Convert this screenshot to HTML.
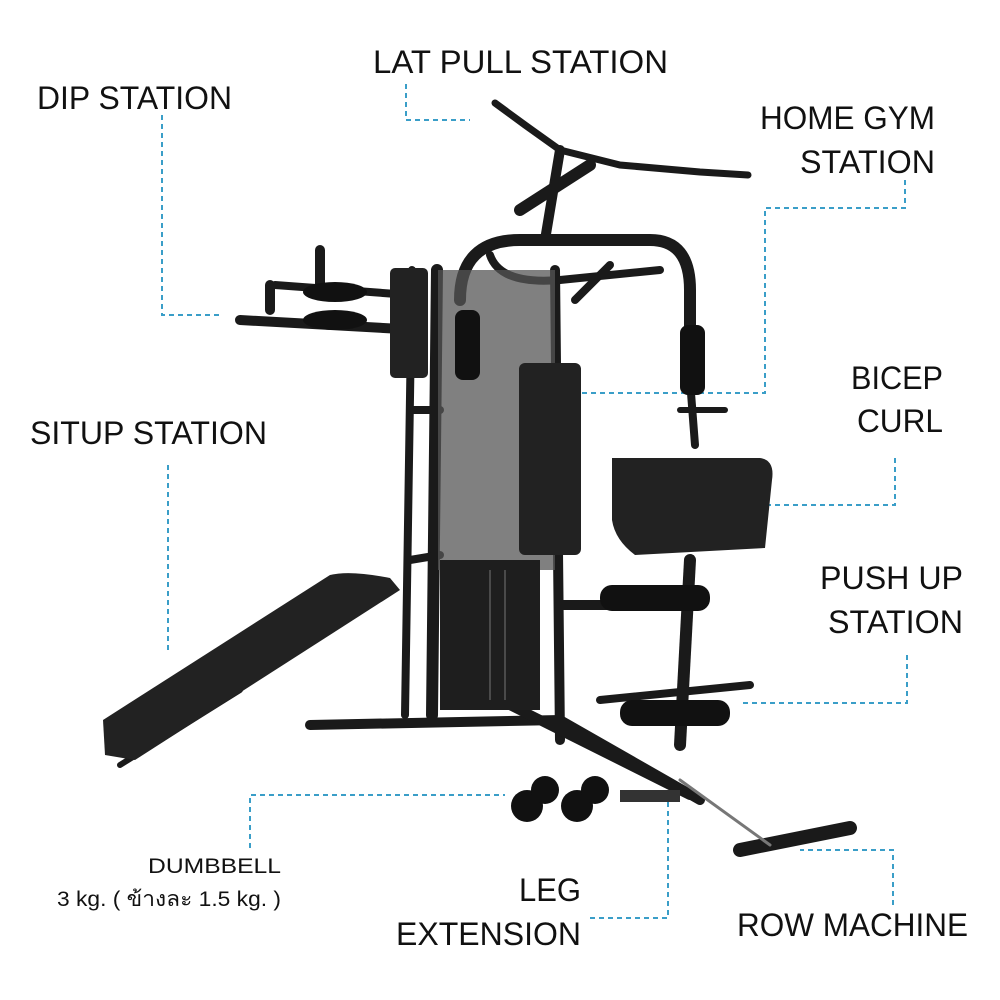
<!DOCTYPE html>
<html><head><meta charset="utf-8"><style>
html,body{margin:0;padding:0;background:#fff;}
svg{display:block}
text{font-family:"Liberation Sans","Noto Sans CJK SC",sans-serif;fill:#111;}
</style></head><body>
<svg width="1000" height="1000" viewBox="0 0 1000 1000" xmlns="http://www.w3.org/2000/svg">
<g fill="none" stroke="#3a9ec8" stroke-width="2" stroke-dasharray="5,4">
<polyline points="406,84 406,120 470,120"/>
<polyline points="162,115 162,315 222,315"/>
<polyline points="905,180 905,208 765,208 765,393 580,393"/>
<polyline points="895,458 895,505 760,505"/>
<polyline points="168,465 168,650"/>
<polyline points="907,655 907,703 740,703"/>
<polyline points="250,848 250,795 505,795"/>
<polyline points="590,918 668,918 668,800"/>
<polyline points="893,905 893,850 800,850"/>
</g>
<g stroke="#1a1a1a" stroke-linecap="round" fill="none">
<path d="M495,103 L525,125 L560,150 L620,165 L700,172 L748,175" stroke-width="7"/>
<path d="M560,150 L545,240" stroke-width="10"/>
<path d="M520,210 L590,165" stroke-width="12"/>
<path d="M437,270 L432,715" stroke-width="12"/>
<path d="M555,270 L560,740" stroke-width="10"/>
<path d="M412,270 L405,715" stroke-width="8"/>
<path d="M460,300 Q460,240 520,240 L650,240 Q690,240 690,290 L690,330" stroke-width="12"/>
<path d="M490,255 Q500,285 560,280 L660,270" stroke-width="8"/>
<path d="M575,300 L610,265" stroke-width="8"/>
<path d="M690,380 L695,445" stroke-width="8"/>
<path d="M680,410 L725,410" stroke-width="6"/>
<path d="M310,725 L560,720 L700,800" stroke-width="10"/>
<path d="M500,700 L690,795" stroke-width="10"/>
<path d="M690,560 L680,745" stroke-width="12"/>
<path d="M600,700 L750,685" stroke-width="8"/>
<path d="M560,605 L690,605" stroke-width="10"/>
<path d="M240,320 L420,330" stroke-width="10"/>
<path d="M275,285 L410,295" stroke-width="8"/>
<path d="M270,285 L270,310" stroke-width="10"/>
<path d="M320,250 L320,285" stroke-width="10"/>
<path d="M740,850 L850,828" stroke-width="14"/>
<path d="M680,780 L770,845" stroke-width="3" stroke="#777"/>
<path d="M440,555 L410,560" stroke-width="8"/>
<path d="M410,410 L440,410" stroke-width="8"/>
<path d="M120,765 L240,690" stroke-width="6"/>
</g>
<rect x="438" y="270" width="117" height="300" fill="#555" opacity="0.75"/>
<rect x="440" y="560" width="100" height="150" fill="#1e1e1e"/>
<g stroke="#777" stroke-width="1">
<line x1="490" y1="570" x2="490" y2="700"/><line x1="505" y1="570" x2="505" y2="700"/>
</g>
<rect x="455" y="310" width="25" height="70" rx="8" fill="#111"/>
<rect x="680" y="325" width="25" height="70" rx="8" fill="#111"/>
<rect x="519" y="363" width="62" height="192" rx="6" fill="#222"/>
<path d="M612,458 L760,458 Q775,460 772,480 L765,548 L635,555 Q615,540 612,520 Z" fill="#222"/>
<rect x="390" y="268" width="38" height="110" rx="5" fill="#222"/>
<ellipse cx="335" cy="292" rx="32" ry="10" fill="#111"/>
<ellipse cx="335" cy="320" rx="32" ry="10" fill="#111"/>
<path d="M103,720 L330,575 Q350,570 390,578 L400,590 L135,760 L105,755 Z" fill="#222"/>
<rect x="600" y="585" width="110" height="26" rx="12" fill="#111"/>
<rect x="620" y="700" width="110" height="26" rx="12" fill="#111"/>
<circle cx="527" cy="806" r="16" fill="#111"/><circle cx="577" cy="806" r="16" fill="#111"/>
<circle cx="545" cy="790" r="14" fill="#111"/><circle cx="595" cy="790" r="14" fill="#111"/>
<rect x="620" y="790" width="60" height="12" fill="#333"/>
<g font-size="32">
<text x="373" y="73" textLength="295" lengthAdjust="spacingAndGlyphs">LAT PULL STATION</text>
<text x="37" y="109" textLength="195" lengthAdjust="spacingAndGlyphs">DIP STATION</text>
<text x="760" y="129" textLength="175" lengthAdjust="spacingAndGlyphs">HOME GYM</text>
<text x="800" y="173" textLength="135" lengthAdjust="spacingAndGlyphs">STATION</text>
<text x="851" y="389" textLength="92" lengthAdjust="spacingAndGlyphs">BICEP</text>
<text x="857" y="432" textLength="86" lengthAdjust="spacingAndGlyphs">CURL</text>
<text x="30" y="444" textLength="237" lengthAdjust="spacingAndGlyphs">SITUP STATION</text>
<text x="820" y="589" textLength="143" lengthAdjust="spacingAndGlyphs">PUSH UP</text>
<text x="828" y="633" textLength="135" lengthAdjust="spacingAndGlyphs">STATION</text>
<text x="519" y="901" textLength="62" lengthAdjust="spacingAndGlyphs">LEG</text>
<text x="396" y="945" textLength="185" lengthAdjust="spacingAndGlyphs">EXTENSION</text>
<text x="737" y="936" textLength="231" lengthAdjust="spacingAndGlyphs">ROW MACHINE</text>
</g>
<text x="148" y="873" font-size="21" textLength="133" lengthAdjust="spacingAndGlyphs">DUMBBELL</text>
<text x="57" y="906" font-size="21" textLength="224" lengthAdjust="spacingAndGlyphs">3 kg. ( ข้างละ 1.5 kg. )</text>
</svg>
</body></html>
